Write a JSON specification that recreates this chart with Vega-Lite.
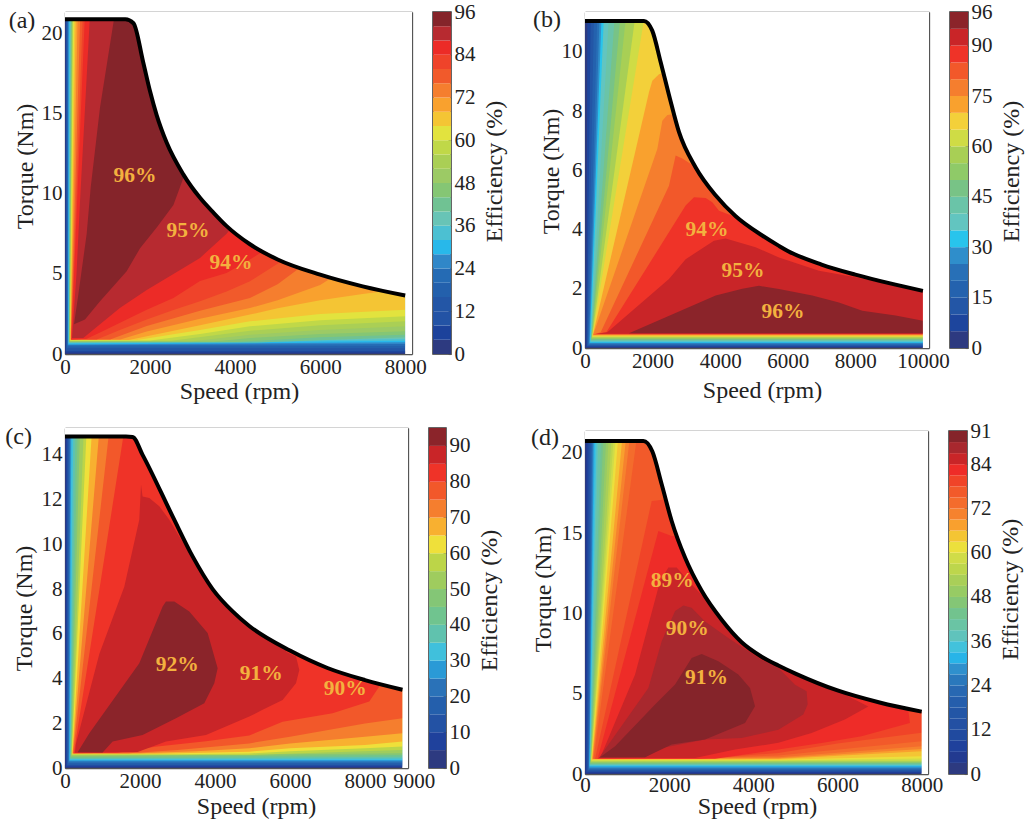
{"$schema":"https://vega.github.io/schema/vega-lite/v6.json","background":"white","padding":{"left":5,"top":0,"right":2,"bottom":2},"spacing":24,"resolve":{"scale":{"fill":"independent"}},
"config":{"view":{"stroke":null},"axis":{"grid":false,"labelFont":"Liberation Serif","titleFont":"Liberation Serif","labelFontSize":21,"titleFontSize":24,"titleFontWeight":"normal","labelColor":"#222","titleColor":"#222","domainColor":"#555","tickColor":"#555","domainWidth":1.3,"tickWidth":1.1,"tickSize":-4,"zindex":1,"labelPadding":6,"labelOverlap":false,"labelFlush":false,"titleBaseline":"middle"}},
"datasets":{
"aB":[{"l":0,"x":0,"y":0},{"l":0,"x":0,"y":21.3},{"l":0,"x":8000,"y":21.3},{"l":0,"x":8000,"y":0},
{"l":4,"x":15,"y":0.08},{"l":4,"x":20,"y":21.3},{"l":4,"x":8000,"y":21.3},{"l":4,"x":8000,"y":0.08},
{"l":8,"x":25,"y":0.17},{"l":8,"x":32,"y":21.3},{"l":8,"x":8000,"y":21.3},{"l":8,"x":8000,"y":0.17},
{"l":12,"x":35,"y":0.27},{"l":12,"x":42,"y":21.3},{"l":12,"x":8000,"y":21.3},{"l":12,"x":8000,"y":0.27},
{"l":16,"x":45,"y":0.38},{"l":16,"x":52,"y":21.3},{"l":16,"x":8000,"y":21.3},{"l":16,"x":8000,"y":0.38},
{"l":20,"x":55,"y":0.47},{"l":20,"x":62,"y":21.3},{"l":20,"x":8000,"y":21.3},{"l":20,"x":8000,"y":0.5},
{"l":24,"x":65,"y":0.55},{"l":24,"x":75,"y":21.3},{"l":24,"x":8000,"y":21.3},{"l":24,"x":8000,"y":0.62},
{"l":28,"x":75,"y":0.6},{"l":28,"x":90,"y":21.3},{"l":28,"x":8000,"y":21.3},{"l":28,"x":8000,"y":0.73},
{"l":32,"x":82,"y":0.65},{"l":32,"x":105,"y":21.3},{"l":32,"x":8000,"y":21.3},{"l":32,"x":8000,"y":0.83},
{"l":36,"x":90,"y":0.68},{"l":36,"x":120,"y":21.3},{"l":36,"x":8000,"y":21.3},{"l":36,"x":8000,"y":0.93},
{"l":40,"x":95,"y":0.72},{"l":40,"x":135,"y":21.3},{"l":40,"x":8000,"y":21.3},{"l":40,"x":8000,"y":1.05},{"l":40,"x":4500,"y":0.72},
{"l":44,"x":100,"y":0.75},{"l":44,"x":150,"y":21.3},{"l":44,"x":8000,"y":21.3},{"l":44,"x":8000,"y":1.2},{"l":44,"x":6000,"y":1.05},{"l":44,"x":4000,"y":0.75},
{"l":48,"x":105,"y":0.78},{"l":48,"x":165,"y":21.3},{"l":48,"x":8000,"y":21.3},{"l":48,"x":8000,"y":1.42},{"l":48,"x":6000,"y":1.25},{"l":48,"x":4350,"y":1.0},{"l":48,"x":3500,"y":0.78},
{"l":52,"x":110,"y":0.8},{"l":52,"x":175,"y":21.3},{"l":52,"x":8000,"y":21.3},{"l":52,"x":8000,"y":1.73},{"l":52,"x":6000,"y":1.5},{"l":52,"x":4350,"y":1.2},{"l":52,"x":3000,"y":0.8},
{"l":56,"x":115,"y":0.82},{"l":56,"x":185,"y":21.3},{"l":56,"x":8000,"y":21.3},{"l":56,"x":8000,"y":2.04},{"l":56,"x":6000,"y":1.8},{"l":56,"x":4350,"y":1.45},{"l":56,"x":2500,"y":0.82},
{"l":60,"x":120,"y":0.85},{"l":60,"x":195,"y":21.3},{"l":60,"x":8000,"y":21.3},{"l":60,"x":8000,"y":2.35},{"l":60,"x":6000,"y":2.1},{"l":60,"x":4350,"y":1.73},{"l":60,"x":3175,"y":1.25},{"l":60,"x":2000,"y":0.85},
{"l":64,"x":125,"y":0.87},{"l":64,"x":220,"y":21.3},{"l":64,"x":8000,"y":21.3},{"l":64,"x":8000,"y":2.77},{"l":64,"x":6000,"y":2.5},{"l":64,"x":4350,"y":2.04},{"l":64,"x":3175,"y":1.5},{"l":64,"x":1700,"y":0.87},
{"l":68,"x":130,"y":0.88},{"l":68,"x":255,"y":21.3},{"l":68,"x":8000,"y":21.3},{"l":68,"x":7500,"y":3.92},{"l":68,"x":7000,"y":3.75},{"l":68,"x":6000,"y":3.35},{"l":68,"x":5000,"y":2.85},{"l":68,"x":4350,"y":2.46},{"l":68,"x":3175,"y":1.8},{"l":68,"x":1500,"y":0.88},
{"l":72,"x":135,"y":0.9},{"l":72,"x":300,"y":21.3},{"l":72,"x":8000,"y":21.3},{"l":72,"x":6260,"y":4.75},{"l":72,"x":6000,"y":4.3},{"l":72,"x":5000,"y":3.35},{"l":72,"x":4350,"y":2.87},{"l":72,"x":3175,"y":2.2},{"l":72,"x":1922,"y":1.4},{"l":72,"x":1300,"y":0.9},
{"l":76,"x":140,"y":0.9},{"l":76,"x":360,"y":21.3},{"l":76,"x":8000,"y":21.3},{"l":76,"x":5530,"y":5.4},{"l":76,"x":5000,"y":4.35},{"l":76,"x":4350,"y":3.5},{"l":76,"x":3175,"y":2.7},{"l":76,"x":1922,"y":1.75},{"l":76,"x":1060,"y":0.9},
{"l":80,"x":145,"y":0.9},{"l":80,"x":420,"y":21.3},{"l":80,"x":8000,"y":21.3},{"l":80,"x":5100,"y":5.8},{"l":80,"x":4350,"y":4.54},{"l":80,"x":3800,"y":3.9},{"l":80,"x":3175,"y":3.3},{"l":80,"x":2550,"y":2.75},{"l":80,"x":1922,"y":2.15},{"l":80,"x":1290,"y":1.5},{"l":80,"x":745,"y":0.9},
{"l":84,"x":150,"y":0.9},{"l":84,"x":470,"y":21.3},{"l":84,"x":8000,"y":21.3},{"l":84,"x":4706,"y":6.5},{"l":84,"x":4350,"y":5.9},{"l":84,"x":3800,"y":5.06},{"l":84,"x":3175,"y":4.55},{"l":84,"x":2550,"y":3.5},{"l":84,"x":1922,"y":2.77},{"l":84,"x":824,"y":1.35},{"l":84,"x":510,"y":0.95},
{"l":88,"x":165,"y":1},{"l":88,"x":270,"y":5},{"l":88,"x":353,"y":9.5},{"l":88,"x":590,"y":21.3},{"l":88,"x":8000,"y":21.3},{"l":88,"x":3800,"y":7.5},{"l":88,"x":3175,"y":6},{"l":88,"x":2550,"y":5},{"l":88,"x":1922,"y":4},{"l":88,"x":1290,"y":2.87},{"l":88,"x":824,"y":1.85},{"l":88,"x":430,"y":1},
{"l":92,"x":212,"y":1.85},{"l":92,"x":313,"y":3.7},{"l":92,"x":510,"y":7.5},{"l":92,"x":604,"y":10.4},{"l":92,"x":824,"y":15.4},{"l":92,"x":1176,"y":21.3},{"l":92,"x":8000,"y":21.3},{"l":92,"x":2785,"y":11},{"l":92,"x":2550,"y":9.3},{"l":92,"x":2157,"y":7.9},{"l":92,"x":1765,"y":6.6},{"l":92,"x":1450,"y":5.17},{"l":92,"x":824,"y":3.3},{"l":92,"x":470,"y":2.15}],
"aM":[{"x":0,"y":20.9,"e":1},{"x":1420,"y":20.9,"e":1},{"x":1610,"y":20.65,"e":1},{"x":1840,"y":18.2,"e":1},{"x":2000,"y":16.4,"e":1},{"x":2157,"y":14.9,"e":1},{"x":2390,"y":13.2,"e":1},{"x":2785,"y":11.2,"e":1},{"x":3175,"y":9.75,"e":1},{"x":3500,"y":8.8,"e":1},{"x":3795,"y":8,"e":1},{"x":4350,"y":6.85,"e":1},{"x":5000,"y":5.9,"e":1},{"x":6000,"y":4.95,"e":1},{"x":7000,"y":4.22,"e":1},{"x":8000,"y":3.65,"e":1},{"x":8000,"y":0,"e":0},{"x":8160,"y":0,"e":0},{"x":8160,"y":21.35,"e":0},{"x":0,"y":21.35,"e":0}],
"aT":[{"x":-1012,"y":20.8,"t":"(a)","k":0},{"x":1647,"y":11.1,"t":"96%","k":1},{"x":2894,"y":7.67,"t":"95%","k":1},{"x":3906,"y":5.67,"t":"94%","k":1}],
"aC":[{"l":0,"h":4},{"l":4,"h":8},{"l":8,"h":12},{"l":12,"h":16},{"l":16,"h":20},{"l":20,"h":24},{"l":24,"h":28},{"l":28,"h":32},{"l":32,"h":36},{"l":36,"h":40},{"l":40,"h":44},{"l":44,"h":48},{"l":48,"h":52},{"l":52,"h":56},{"l":56,"h":60},{"l":60,"h":64},{"l":64,"h":68},{"l":68,"h":72},{"l":72,"h":76},{"l":76,"h":80},{"l":80,"h":84},{"l":84,"h":88},{"l":88,"h":92},{"l":92,"h":96}],
"bB":[{"l":0,"x":0,"y":0},{"l":0,"x":0,"y":11.3},{"l":0,"x":10000,"y":11.3},{"l":0,"x":10000,"y":0},
{"l":5,"x":40,"y":0.03},{"l":5,"x":70,"y":11.3},{"l":5,"x":10000,"y":11.3},{"l":5,"x":10000,"y":0.03},
{"l":10,"x":60,"y":0.06},{"l":10,"x":168,"y":11.3},{"l":10,"x":10000,"y":11.3},{"l":10,"x":10000,"y":0.06},
{"l":15,"x":80,"y":0.09},{"l":15,"x":266,"y":11.3},{"l":15,"x":10000,"y":11.3},{"l":15,"x":10000,"y":0.09},
{"l":20,"x":100,"y":0.12},{"l":20,"x":365,"y":11.3},{"l":20,"x":10000,"y":11.3},{"l":20,"x":10000,"y":0.12},
{"l":25,"x":120,"y":0.15},{"l":25,"x":434,"y":11.3},{"l":25,"x":10000,"y":11.3},{"l":25,"x":10000,"y":0.15},
{"l":30,"x":140,"y":0.18},{"l":30,"x":493,"y":11.3},{"l":30,"x":10000,"y":11.3},{"l":30,"x":10000,"y":0.18},
{"l":35,"x":160,"y":0.21},{"l":35,"x":562,"y":11.3},{"l":35,"x":10000,"y":11.3},{"l":35,"x":10000,"y":0.21},
{"l":40,"x":170,"y":0.24},{"l":40,"x":710,"y":11.3},{"l":40,"x":10000,"y":11.3},{"l":40,"x":10000,"y":0.24},
{"l":45,"x":180,"y":0.27},{"l":45,"x":887,"y":11.3},{"l":45,"x":10000,"y":11.3},{"l":45,"x":10000,"y":0.27},
{"l":50,"x":190,"y":0.3},{"l":50,"x":1055,"y":11.3},{"l":50,"x":10000,"y":11.3},{"l":50,"x":10000,"y":0.3},
{"l":55,"x":200,"y":0.33},{"l":55,"x":1223,"y":11.3},{"l":55,"x":10000,"y":11.3},{"l":55,"x":10000,"y":0.33},
{"l":60,"x":210,"y":0.36},{"l":60,"x":1500,"y":11.3},{"l":60,"x":10000,"y":11.3},{"l":60,"x":10000,"y":0.36},
{"l":65,"x":220,"y":0.39},{"l":65,"x":1775,"y":11.3},{"l":65,"x":10000,"y":11.3},{"l":65,"x":10000,"y":0.39},
{"l":70,"x":230,"y":0.42},{"l":70,"x":1893,"y":8.64},{"l":70,"x":1992,"y":9.03},{"l":70,"x":2189,"y":9.25},{"l":70,"x":2337,"y":9.3},{"l":70,"x":10000,"y":11.3},{"l":70,"x":10000,"y":0.42},
{"l":75,"x":240,"y":0.44},{"l":75,"x":2140,"y":6.72},{"l":75,"x":2288,"y":7.68},{"l":75,"x":2436,"y":7.87},{"l":75,"x":2604,"y":7.9},{"l":75,"x":10000,"y":11.3},{"l":75,"x":10000,"y":0.44},
{"l":80,"x":250,"y":0.46},{"l":80,"x":464,"y":0.53},{"l":80,"x":2485,"y":5.48},{"l":80,"x":2682,"y":6.5},{"l":80,"x":2880,"y":6.4},{"l":80,"x":3225,"y":6.15},{"l":80,"x":10000,"y":11.3},{"l":80,"x":10000,"y":0.46},
{"l":85,"x":300,"y":0.47},{"l":85,"x":631,"y":0.53},{"l":85,"x":2978,"y":4.81},{"l":85,"x":3225,"y":5.09},{"l":85,"x":3570,"y":5.07},{"l":85,"x":3767,"y":4.92},{"l":85,"x":3965,"y":4.64},{"l":85,"x":4359,"y":4.47},{"l":85,"x":10000,"y":11.3},{"l":85,"x":10000,"y":0.47},
{"l":90,"x":350,"y":0.48},{"l":90,"x":661,"y":0.53},{"l":90,"x":2485,"y":2.33},{"l":90,"x":2978,"y":3},{"l":90,"x":3816,"y":3.62},{"l":90,"x":4162,"y":3.7},{"l":90,"x":5048,"y":3.4},{"l":90,"x":5740,"y":3.06},{"l":90,"x":6923,"y":2.61},{"l":90,"x":8008,"y":2.39},{"l":90,"x":9192,"y":2.1},{"l":90,"x":10000,"y":1.93},{"l":90,"x":10000,"y":0.48},
{"l":95,"x":1302,"y":0.5},{"l":95,"x":3867,"y":1.77},{"l":95,"x":4655,"y":2},{"l":95,"x":5148,"y":2.1},{"l":95,"x":5740,"y":1.99},{"l":95,"x":6725,"y":1.77},{"l":95,"x":7514,"y":1.54},{"l":95,"x":8205,"y":1.26},{"l":95,"x":9192,"y":1.1},{"l":95,"x":10000,"y":0.92},{"l":95,"x":10000,"y":0.5}],
"bM":[{"x":0,"y":11.05,"e":1},{"x":1745,"y":11.05,"e":1},{"x":1990,"y":10.72,"e":1},{"x":2240,"y":9.65,"e":1},{"x":2485,"y":8.55,"e":1},{"x":2780,"y":7.3,"e":1},{"x":3275,"y":6.1,"e":1},{"x":3870,"y":5.15,"e":1},{"x":4460,"y":4.45,"e":1},{"x":5245,"y":3.8,"e":1},{"x":5740,"y":3.45,"e":1},{"x":6000,"y":3.28,"e":1},{"x":7000,"y":2.82,"e":1},{"x":8000,"y":2.48,"e":1},{"x":9000,"y":2.19,"e":1},{"x":10000,"y":1.93,"e":1},{"x":10000,"y":0,"e":0},{"x":10180,"y":0,"e":0},{"x":10180,"y":11.35,"e":0},{"x":0,"y":11.35,"e":0}],
"bT":[{"x":-1124,"y":11.08,"t":"(b)","k":0},{"x":3609,"y":3.99,"t":"94%","k":1},{"x":4675,"y":2.6,"t":"95%","k":1},{"x":5858,"y":1.22,"t":"96%","k":1}],
"bC":[{"l":0,"h":5},{"l":5,"h":10},{"l":10,"h":15},{"l":15,"h":20},{"l":20,"h":25},{"l":25,"h":30},{"l":30,"h":35},{"l":35,"h":40},{"l":40,"h":45},{"l":45,"h":50},{"l":50,"h":55},{"l":55,"h":60},{"l":60,"h":65},{"l":65,"h":70},{"l":70,"h":75},{"l":75,"h":80},{"l":80,"h":85},{"l":85,"h":90},{"l":90,"h":95},{"l":95,"h":100}],
"cB":[{"l":0,"x":0,"y":0},{"l":0,"x":0,"y":15.1},{"l":0,"x":9000,"y":15.1},{"l":0,"x":9000,"y":0},
{"l":5,"x":25,"y":0.05},{"l":5,"x":30,"y":15.1},{"l":5,"x":9000,"y":15.1},{"l":5,"x":9000,"y":0.05},
{"l":10,"x":45,"y":0.1},{"l":10,"x":60,"y":15.1},{"l":10,"x":9000,"y":15.1},{"l":10,"x":9000,"y":0.1},
{"l":15,"x":65,"y":0.15},{"l":15,"x":90,"y":15.1},{"l":15,"x":9000,"y":15.1},{"l":15,"x":9000,"y":0.15},
{"l":20,"x":85,"y":0.23},{"l":20,"x":120,"y":15.1},{"l":20,"x":9000,"y":15.1},{"l":20,"x":9000,"y":0.23},
{"l":25,"x":105,"y":0.3},{"l":25,"x":145,"y":15.1},{"l":25,"x":9000,"y":15.1},{"l":25,"x":9000,"y":0.3},
{"l":30,"x":120,"y":0.35},{"l":30,"x":170,"y":15.1},{"l":30,"x":9000,"y":15.1},{"l":30,"x":9000,"y":0.36},
{"l":35,"x":135,"y":0.4},{"l":35,"x":221,"y":15.1},{"l":35,"x":9000,"y":15.1},{"l":35,"x":9000,"y":0.43},
{"l":40,"x":145,"y":0.44},{"l":40,"x":280,"y":15.1},{"l":40,"x":9000,"y":15.1},{"l":40,"x":9000,"y":0.5},
{"l":45,"x":155,"y":0.48},{"l":45,"x":337,"y":15.1},{"l":45,"x":9000,"y":15.1},{"l":45,"x":9000,"y":0.58},
{"l":50,"x":165,"y":0.53},{"l":50,"x":400,"y":15.1},{"l":50,"x":9000,"y":15.1},{"l":50,"x":9000,"y":0.66},
{"l":55,"x":175,"y":0.58},{"l":55,"x":500,"y":15.1},{"l":55,"x":9000,"y":15.1},{"l":55,"x":9000,"y":0.8},{"l":55,"x":4914,"y":0.58},
{"l":60,"x":185,"y":0.62},{"l":60,"x":577,"y":15.1},{"l":60,"x":9000,"y":15.1},{"l":60,"x":9000,"y":0.96},{"l":60,"x":8000,"y":0.88},{"l":60,"x":6000,"y":0.75},{"l":60,"x":4914,"y":0.65},{"l":60,"x":3000,"y":0.62},
{"l":65,"x":195,"y":0.64},{"l":65,"x":719,"y":15.1},{"l":65,"x":9000,"y":15.1},{"l":65,"x":9000,"y":1.18},{"l":65,"x":8000,"y":1.03},{"l":65,"x":6000,"y":0.88},{"l":65,"x":4914,"y":0.73},{"l":65,"x":2400,"y":0.64},
{"l":70,"x":205,"y":0.66},{"l":70,"x":915,"y":15.1},{"l":70,"x":9000,"y":15.1},{"l":70,"x":9000,"y":1.55},{"l":70,"x":8000,"y":1.4},{"l":70,"x":6000,"y":1.1},{"l":70,"x":4914,"y":0.88},{"l":70,"x":3500,"y":0.75},{"l":70,"x":2000,"y":0.66},
{"l":75,"x":215,"y":0.66},{"l":75,"x":1181,"y":15.1},{"l":75,"x":9000,"y":15.1},{"l":75,"x":9000,"y":2.22},{"l":75,"x":8000,"y":1.99},{"l":75,"x":6000,"y":1.4},{"l":75,"x":4914,"y":1.1},{"l":75,"x":3000,"y":0.8},{"l":75,"x":1700,"y":0.66},
{"l":80,"x":235,"y":0.66},{"l":80,"x":1581,"y":15.1},{"l":80,"x":9000,"y":15.1},{"l":80,"x":8381,"y":3.64},{"l":80,"x":8115,"y":2.97},{"l":80,"x":7136,"y":2.45},{"l":80,"x":5803,"y":2.07},{"l":80,"x":4914,"y":1.45},{"l":80,"x":3760,"y":1.2},{"l":80,"x":2400,"y":0.95},{"l":80,"x":1400,"y":0.68},
{"l":85,"x":265,"y":0.68},{"l":85,"x":293,"y":1.1},{"l":85,"x":915,"y":5.1},{"l":85,"x":1581,"y":8.1},{"l":85,"x":1981,"y":11.1},{"l":85,"x":2027,"y":12.66},{"l":85,"x":2069,"y":12.14},{"l":85,"x":2248,"y":12.07},{"l":85,"x":2515,"y":11.7},{"l":85,"x":2781,"y":11.1},{"l":85,"x":3048,"y":10.35},{"l":85,"x":3403,"y":9.4},{"l":85,"x":6000,"y":9},{"l":85,"x":5893,"y":5.2},{"l":85,"x":6160,"y":4.98},{"l":85,"x":6248,"y":4.38},{"l":85,"x":6160,"y":3.79},{"l":85,"x":5803,"y":3.04},{"l":85,"x":5270,"y":2.6},{"l":85,"x":4914,"y":2.3},{"l":85,"x":3760,"y":1.48},{"l":85,"x":2693,"y":1.18},{"l":85,"x":1936,"y":0.72},
{"l":90,"x":337,"y":0.7},{"l":90,"x":648,"y":1.55},{"l":90,"x":1981,"y":4.68},{"l":90,"x":2604,"y":7.22},{"l":90,"x":2693,"y":7.44},{"l":90,"x":2915,"y":7.44},{"l":90,"x":3315,"y":7},{"l":90,"x":3804,"y":6.03},{"l":90,"x":4071,"y":4.46},{"l":90,"x":3981,"y":3.79},{"l":90,"x":3715,"y":2.9},{"l":90,"x":2960,"y":2.22},{"l":90,"x":2069,"y":1.48},{"l":90,"x":1270,"y":1.18},{"l":90,"x":1003,"y":0.69}],
"cM":[{"x":0,"y":14.82,"e":1},{"x":1626,"y":14.82,"e":1},{"x":1803,"y":14.8,"e":1},{"x":2069,"y":14,"e":1},{"x":2870,"y":11.25,"e":1},{"x":3403,"y":9.46,"e":1},{"x":3936,"y":8,"e":1},{"x":4470,"y":7,"e":1},{"x":4914,"y":6.35,"e":1},{"x":6000,"y":5.25,"e":1},{"x":7000,"y":4.47,"e":1},{"x":8000,"y":3.93,"e":1},{"x":9000,"y":3.5,"e":1},{"x":9000,"y":0,"e":0},{"x":9147,"y":0,"e":0},{"x":9147,"y":15.2,"e":0},{"x":0,"y":15.2,"e":0}],
"cT":[{"x":-1237,"y":14.82,"t":"(c)","k":0},{"x":2995,"y":4.6,"t":"92%","k":1},{"x":5235,"y":4.2,"t":"91%","k":1},{"x":7475,"y":3.53,"t":"90%","k":1},{"x":9315,"y":-0.61,"t":"9000","k":2}],
"cC":[{"l":0,"h":5},{"l":5,"h":10},{"l":10,"h":15},{"l":15,"h":20},{"l":20,"h":25},{"l":25,"h":30},{"l":30,"h":35},{"l":35,"h":40},{"l":40,"h":45},{"l":45,"h":50},{"l":50,"h":55},{"l":55,"h":60},{"l":60,"h":65},{"l":65,"h":70},{"l":70,"h":75},{"l":75,"h":80},{"l":80,"h":85},{"l":85,"h":90},{"l":90,"h":95}],
"dB":[{"l":0,"x":0,"y":0},{"l":0,"x":0,"y":21.3},{"l":0,"x":8000,"y":21.3},{"l":0,"x":8000,"y":0},
{"l":3,"x":12,"y":0.04},{"l":3,"x":25,"y":21.3},{"l":3,"x":8000,"y":21.3},{"l":3,"x":8000,"y":0.04},
{"l":6,"x":25,"y":0.08},{"l":6,"x":50,"y":21.3},{"l":6,"x":8000,"y":21.3},{"l":6,"x":8000,"y":0.08},
{"l":9,"x":37,"y":0.12},{"l":9,"x":75,"y":21.3},{"l":9,"x":8000,"y":21.3},{"l":9,"x":8000,"y":0.12},
{"l":12,"x":50,"y":0.16},{"l":12,"x":100,"y":21.3},{"l":12,"x":8000,"y":21.3},{"l":12,"x":8000,"y":0.16},
{"l":15,"x":60,"y":0.2},{"l":15,"x":120,"y":21.3},{"l":15,"x":8000,"y":21.3},{"l":15,"x":8000,"y":0.2},
{"l":18,"x":70,"y":0.24},{"l":18,"x":140,"y":21.3},{"l":18,"x":8000,"y":21.3},{"l":18,"x":8000,"y":0.24},
{"l":21,"x":80,"y":0.28},{"l":21,"x":160,"y":21.3},{"l":21,"x":8000,"y":21.3},{"l":21,"x":8000,"y":0.28},
{"l":24,"x":90,"y":0.33},{"l":24,"x":175,"y":21.3},{"l":24,"x":8000,"y":21.3},{"l":24,"x":8000,"y":0.33},
{"l":27,"x":100,"y":0.38},{"l":27,"x":195,"y":21.3},{"l":27,"x":8000,"y":21.3},{"l":27,"x":8000,"y":0.38},
{"l":30,"x":105,"y":0.45},{"l":30,"x":215,"y":21.3},{"l":30,"x":8000,"y":21.3},{"l":30,"x":8000,"y":0.45},
{"l":33,"x":110,"y":0.5},{"l":33,"x":240,"y":21.3},{"l":33,"x":8000,"y":21.3},{"l":33,"x":8000,"y":0.5},
{"l":36,"x":115,"y":0.55},{"l":36,"x":280,"y":21.3},{"l":36,"x":8000,"y":21.3},{"l":36,"x":8000,"y":0.55},
{"l":39,"x":120,"y":0.58},{"l":39,"x":320,"y":21.3},{"l":39,"x":8000,"y":21.3},{"l":39,"x":8000,"y":0.58},
{"l":42,"x":125,"y":0.62},{"l":42,"x":390,"y":21.3},{"l":42,"x":8000,"y":21.3},{"l":42,"x":8000,"y":0.62},
{"l":45,"x":130,"y":0.66},{"l":45,"x":440,"y":21.3},{"l":45,"x":8000,"y":21.3},{"l":45,"x":8000,"y":0.68},
{"l":48,"x":135,"y":0.7},{"l":48,"x":510,"y":21.3},{"l":48,"x":8000,"y":21.3},{"l":48,"x":8000,"y":0.72},
{"l":51,"x":140,"y":0.74},{"l":51,"x":570,"y":21.3},{"l":51,"x":8000,"y":21.3},{"l":51,"x":8000,"y":0.77},
{"l":54,"x":145,"y":0.78},{"l":54,"x":640,"y":21.3},{"l":54,"x":8000,"y":21.3},{"l":54,"x":8000,"y":0.8},
{"l":57,"x":150,"y":0.82},{"l":57,"x":690,"y":21.3},{"l":57,"x":8000,"y":21.3},{"l":57,"x":8000,"y":0.84},
{"l":60,"x":155,"y":0.85},{"l":60,"x":740,"y":21.3},{"l":60,"x":8000,"y":21.3},{"l":60,"x":8000,"y":0.96},{"l":60,"x":4594,"y":0.85},
{"l":63,"x":160,"y":0.88},{"l":63,"x":800,"y":21.3},{"l":63,"x":8000,"y":21.3},{"l":63,"x":8000,"y":1.1},{"l":63,"x":4594,"y":0.88},
{"l":66,"x":170,"y":0.92},{"l":66,"x":900,"y":21.3},{"l":66,"x":8000,"y":21.3},{"l":66,"x":8000,"y":1.42},{"l":66,"x":4594,"y":0.93},
{"l":69,"x":180,"y":0.95},{"l":69,"x":990,"y":21.3},{"l":69,"x":8000,"y":21.3},{"l":69,"x":8000,"y":1.55},{"l":69,"x":4594,"y":0.98},{"l":69,"x":1500,"y":0.95},
{"l":72,"x":190,"y":0.95},{"l":72,"x":1080,"y":21.3},{"l":72,"x":8000,"y":21.3},{"l":72,"x":8000,"y":1.73},{"l":72,"x":4594,"y":1.05},{"l":72,"x":1800,"y":0.95},
{"l":75,"x":205,"y":0.95},{"l":75,"x":1250,"y":21.3},{"l":75,"x":8000,"y":21.3},{"l":75,"x":8000,"y":2.04},{"l":75,"x":4594,"y":1.15},{"l":75,"x":2200,"y":0.95},
{"l":78,"x":240,"y":0.95},{"l":78,"x":1585,"y":17},{"l":78,"x":1950,"y":17.1},{"l":78,"x":8000,"y":21.3},{"l":78,"x":8000,"y":2.56},{"l":78,"x":6000,"y":1.9},{"l":78,"x":4594,"y":1.31},{"l":78,"x":2700,"y":0.95},
{"l":81,"x":300,"y":0.95},{"l":81,"x":1743,"y":15.12},{"l":81,"x":2059,"y":14.81},{"l":81,"x":2200,"y":14.8},{"l":81,"x":8000,"y":21.3},{"l":81,"x":7681,"y":3.99},{"l":81,"x":7720,"y":3.18},{"l":81,"x":6572,"y":2.35},{"l":81,"x":5622,"y":1.93},{"l":81,"x":4594,"y":1.52},{"l":81,"x":3090,"y":0.95},
{"l":84,"x":358,"y":1},{"l":84,"x":1190,"y":6.2},{"l":84,"x":1783,"y":12},{"l":84,"x":1981,"y":12.85},{"l":84,"x":2178,"y":12.85},{"l":84,"x":2534,"y":11.8},{"l":84,"x":2930,"y":10.7},{"l":84,"x":3400,"y":11},{"l":84,"x":6138,"y":7},{"l":84,"x":6138,"y":5},{"l":84,"x":6732,"y":4.2},{"l":84,"x":6174,"y":3.39},{"l":84,"x":5385,"y":2.55},{"l":84,"x":4594,"y":1.94},{"l":84,"x":3565,"y":1.52},{"l":84,"x":2615,"y":1},
{"l":87,"x":330,"y":1},{"l":87,"x":1506,"y":5.36},{"l":87,"x":1822,"y":8.27},{"l":87,"x":2140,"y":10.14},{"l":87,"x":2337,"y":10.49},{"l":87,"x":2534,"y":10.35},{"l":87,"x":2853,"y":9.5},{"l":87,"x":3406,"y":8.47},{"l":87,"x":4197,"y":7.1},{"l":87,"x":4594,"y":6.6},{"l":87,"x":4990,"y":5.56},{"l":87,"x":5266,"y":5.15},{"l":87,"x":5290,"y":4.32},{"l":87,"x":5188,"y":3.7},{"l":87,"x":4594,"y":2.76},{"l":87,"x":3722,"y":2.24},{"l":87,"x":2853,"y":2.14},{"l":87,"x":1822,"y":1.62},{"l":87,"x":1427,"y":1.05},
{"l":90,"x":358,"y":1.05},{"l":90,"x":715,"y":1.73},{"l":90,"x":1665,"y":4.32},{"l":90,"x":2140,"y":5.57},{"l":90,"x":2534,"y":7.22},{"l":90,"x":2772,"y":7.47},{"l":90,"x":3169,"y":7.02},{"l":90,"x":3644,"y":6.2},{"l":90,"x":3921,"y":5.36},{"l":90,"x":4040,"y":4.22},{"l":90,"x":3802,"y":3.18},{"l":90,"x":2853,"y":2.14},{"l":90,"x":2059,"y":1.83},{"l":90,"x":1427,"y":1.05}],
"dM":[{"x":0,"y":20.73,"e":1},{"x":1387,"y":20.73,"e":1},{"x":1601,"y":20.07,"e":1},{"x":1822,"y":18.03,"e":1},{"x":2059,"y":15.75,"e":1},{"x":2377,"y":13.47,"e":1},{"x":2772,"y":11.4,"e":1},{"x":3247,"y":9.6,"e":1},{"x":3722,"y":8.2,"e":1},{"x":4197,"y":7.3,"e":1},{"x":4594,"y":6.75,"e":1},{"x":5000,"y":6.25,"e":1},{"x":6000,"y":5.2,"e":1},{"x":7000,"y":4.45,"e":1},{"x":8000,"y":3.88,"e":1},{"x":8000,"y":0,"e":0},{"x":8150,"y":0,"e":0},{"x":8150,"y":21.35,"e":0},{"x":0,"y":21.35,"e":0}],
"dT":[{"x":-948,"y":20.9,"t":"(d)","k":0},{"x":2076,"y":12,"t":"89%","k":1},{"x":2432,"y":9,"t":"90%","k":1},{"x":2884,"y":5.96,"t":"91%","k":1}],
"dC":[{"l":0,"h":3},{"l":3,"h":6},{"l":6,"h":9},{"l":9,"h":12},{"l":12,"h":15},{"l":15,"h":18},{"l":18,"h":21},{"l":21,"h":24},{"l":24,"h":27},{"l":27,"h":30},{"l":30,"h":33},{"l":33,"h":36},{"l":36,"h":39},{"l":39,"h":42},{"l":42,"h":45},{"l":45,"h":48},{"l":48,"h":51},{"l":51,"h":54},{"l":54,"h":57},{"l":57,"h":60},{"l":60,"h":63},{"l":63,"h":66},{"l":66,"h":69},{"l":69,"h":72},{"l":72,"h":75},{"l":75,"h":78},{"l":78,"h":81},{"l":81,"h":84},{"l":84,"h":87},{"l":87,"h":90},{"l":90,"h":93}]
},
"hconcat":[
{"spacing":21,"resolve":{"scale":{"fill":"independent"}},"vconcat":[
{"bounds":"flush","spacing":21,"resolve":{"scale":{"fill":"independent"}},"hconcat":[
{"width":347,"height":342,"encoding":{"x":{"field":"x","type":"quantitative","scale":{"domain":[0,8160]},"axis":null},"y":{"field":"y","type":"quantitative","scale":{"domain":[0,21.35]},"axis":null}},"resolve":{"axis":{"x":"independent","y":"independent"}},"layer":[
{"data":{"name":"aB"},"mark":{"type":"line","stroke":null},"encoding":{"order":{"value":null},"fill":{"field":"l","type":"ordinal","legend":null,"scale":{"domain":[0,4,8,12,16,20,24,28,32,36,40,44,48,52,56,60,64,68,72,76,80,84,88,92],"range":["#2d3a80","#1c429b","#2353a5","#2356a6","#2360ac","#256bb4","#3087c8","#28b8ea","#4cc0d2","#68c4b6","#70c293","#85c674","#9cca65","#aacf55","#c0d848","#e2e33e","#f4c534","#f9a12e","#f57e2e","#f15a2b","#ef432a","#ec2b27","#b72a30","#85242a"]}},
"x":{"field":"x","type":"quantitative","scale":{"domain":[0,8160]},"axis":{"title":"Speed (rpm)","titleX":174,"titleY":37,"values":[0,1000,2000,3000,4000,5000,6000,7000,8000],"format":"d","labelExpr":"datum.value%2000==0?datum.label:''"}},
"y":{"field":"y","type":"quantitative","scale":{"domain":[0,21.35]},"axis":{"title":"Torque (Nm)","titleX":-40,"titleY":154,"values":[0,5,10,15,20],"labelPadding":7}}}},
{"data":{"name":"aM"},"mark":{"type":"line","fill":"white","stroke":null},"encoding":{"order":{"value":null},
"x":{"field":"x","type":"quantitative","scale":{"domain":[0,8160]},"axis":{"orient":"top","title":null,"labels":false,"values":[0,1000,2000,3000,4000,5000,6000,7000,8000]}},
"y":{"field":"y","type":"quantitative","scale":{"domain":[0,21.35]},"axis":{"orient":"right","title":null,"labels":false,"values":[0,5,10,15,20]}}}},
{"data":{"name":"aM"},"transform":[{"filter":"datum.e==1"}],"mark":{"type":"line","color":"black","strokeWidth":4,"strokeJoin":"round","interpolate":"monotone"},"encoding":{"order":{"value":null}}},
{"data":{"name":"aT"},"transform":[{"filter":"datum.k==0"}],"mark":{"type":"text","font":"Liberation Serif","fontSize":24,"color":"#222"},"encoding":{"text":{"field":"t"}}},
{"data":{"name":"aT"},"transform":[{"filter":"datum.k==1"}],"mark":{"type":"text","font":"Liberation Serif","fontSize":21.5,"fontWeight":"bold","color":"#f3b13f"},"encoding":{"text":{"field":"t"}}}]},
{"width":18,"height":342,"data":{"name":"aC"},"view":{"stroke":"#333","strokeWidth":1.5},"mark":{"type":"rect"},"encoding":{"y":{"field":"l","type":"quantitative","scale":{"domain":[0,96]},"axis":{"orient":"right","title":"Efficiency (%)","titleAngle":270,"titleX":43,"titleY":159,"values":[0,12,24,36,48,60,72,84,96],"domain":false,"tickSize":-3,"labelPadding":6}},"y2":{"field":"h"},"fill":{"field":"l","type":"ordinal","legend":null,"scale":{"domain":[0,4,8,12,16,20,24,28,32,36,40,44,48,52,56,60,64,68,72,76,80,84,88,92],"range":["#2d3a80","#1c429b","#2353a5","#2356a6","#2360ac","#256bb4","#3087c8","#28b8ea","#4cc0d2","#68c4b6","#70c293","#85c674","#9cca65","#aacf55","#c0d848","#e2e33e","#f4c534","#f9a12e","#f57e2e","#f15a2b","#ef432a","#ec2b27","#b72a30","#85242a"]}}}}]},
{"bounds":"flush","spacing":21,"resolve":{"scale":{"fill":"independent"}},"hconcat":[
{"width":343,"height":340,"encoding":{"x":{"field":"x","type":"quantitative","scale":{"domain":[0,9147]},"axis":null},"y":{"field":"y","type":"quantitative","scale":{"domain":[0,15.2]},"axis":null}},"resolve":{"axis":{"x":"independent","y":"independent"}},"layer":[
{"data":{"name":"cB"},"mark":{"type":"line","stroke":null},"encoding":{"order":{"value":null},"fill":{"field":"l","type":"ordinal","legend":null,"scale":{"domain":[0,5,10,15,20,25,30,35,40,45,50,55,60,65,70,75,80,85,90],"range":["#2d3a80","#1f419c","#2352a4","#245fac","#2a72b8","#2a9ad6","#40c0dc","#60c2ae","#70c48f","#84c676","#9fcc5e","#bcd548","#efe03a","#f8b030","#f57e2e","#f2582a","#ef3328","#c92528","#8b242a"]}},
"x":{"field":"x","type":"quantitative","scale":{"domain":[0,9147]},"axis":{"title":"Speed (rpm)","titleX":191,"titleY":38,"values":[0,2000,4000,6000,8000],"format":"d"}},
"y":{"field":"y","type":"quantitative","scale":{"domain":[0,15.2]},"axis":{"title":"Torque (Nm)","titleX":-41,"titleY":180,"values":[0,2,4,6,8,10,12,14],"labelPadding":7}}}},
{"data":{"name":"cM"},"mark":{"type":"line","fill":"white","stroke":null},"encoding":{"order":{"value":null},
"x":{"field":"x","type":"quantitative","scale":{"domain":[0,9147]},"axis":{"orient":"top","title":null,"labels":false,"values":[0,2000,4000,6000,8000]}},
"y":{"field":"y","type":"quantitative","scale":{"domain":[0,15.2]},"axis":{"orient":"right","title":null,"labels":false,"values":[0,2,4,6,8,10,12,14]}}}},
{"data":{"name":"cM"},"transform":[{"filter":"datum.e==1"}],"mark":{"type":"line","color":"black","strokeWidth":4,"strokeJoin":"round","interpolate":"monotone"},"encoding":{"order":{"value":null}}},
{"data":{"name":"cT"},"transform":[{"filter":"datum.k!=1"}],"mark":{"type":"text","font":"Liberation Serif","color":"#222"},"encoding":{"text":{"field":"t"},"size":{"condition":{"test":"datum.k==2","value":21},"value":24}}},
{"data":{"name":"cT"},"transform":[{"filter":"datum.k==1"}],"mark":{"type":"text","font":"Liberation Serif","fontSize":21.5,"fontWeight":"bold","color":"#f3b13f"},"encoding":{"text":{"field":"t"}}}]},
{"width":17,"height":340,"data":{"name":"cC"},"view":{"stroke":"#333","strokeWidth":1.5},"mark":{"type":"rect"},"encoding":{"y":{"field":"l","type":"quantitative","scale":{"domain":[0,95]},"axis":{"orient":"right","title":"Efficiency (%)","titleAngle":270,"titleX":43,"titleY":172,"values":[0,10,20,30,40,50,60,70,80,90],"domain":false,"tickSize":-3,"labelPadding":6}},"y2":{"field":"h"},"fill":{"field":"l","type":"ordinal","legend":null,"scale":{"domain":[0,5,10,15,20,25,30,35,40,45,50,55,60,65,70,75,80,85,90],"range":["#2d3a80","#1f419c","#2352a4","#245fac","#2a72b8","#2a9ad6","#40c0dc","#60c2ae","#70c48f","#84c676","#9fcc5e","#bcd548","#efe03a","#f8b030","#f57e2e","#f2582a","#ef3328","#c92528","#8b242a"]}}}}]}
]},
{"spacing":17,"resolve":{"scale":{"fill":"independent"}},"vconcat":[
{"bounds":"flush","spacing":21,"resolve":{"scale":{"fill":"independent"}},"hconcat":[
{"width":344,"height":336,"encoding":{"x":{"field":"x","type":"quantitative","scale":{"domain":[0,10180]},"axis":null},"y":{"field":"y","type":"quantitative","scale":{"domain":[0,11.35]},"axis":null}},"resolve":{"axis":{"x":"independent","y":"independent"}},"layer":[
{"data":{"name":"bB"},"mark":{"type":"line","stroke":null},"encoding":{"order":{"value":null},"fill":{"field":"l","type":"ordinal","legend":null,"scale":{"domain":[0,5,10,15,20,25,30,35,40,45,50,55,60,65,70,75,80,85,90,95],"range":["#2d3a80","#1d459d","#2356a6","#2462ae","#2870b7","#2f8ecb","#28c4ec","#62c5c0","#6ac4a8","#78c386","#8fca68","#a8cf55","#cfdc45","#f3d03a","#f9a12e","#f57e2e","#f2582a","#ef3328","#c92528","#8b242a"]}},
"x":{"field":"x","type":"quantitative","scale":{"domain":[0,10180]},"axis":{"title":"Speed (rpm)","titleX":177,"titleY":42,"values":[0,2000,4000,6000,8000,10000],"format":"d"}},
"y":{"field":"y","type":"quantitative","scale":{"domain":[0,11.35]},"axis":{"title":"Torque (Nm)","titleX":-34,"titleY":159,"values":[0,2,4,6,8,10],"labelPadding":7}}}},
{"data":{"name":"bM"},"mark":{"type":"line","fill":"white","stroke":null},"encoding":{"order":{"value":null},
"x":{"field":"x","type":"quantitative","scale":{"domain":[0,10180]},"axis":{"orient":"top","title":null,"labels":false,"values":[0,2000,4000,6000,8000,10000]}},
"y":{"field":"y","type":"quantitative","scale":{"domain":[0,11.35]},"axis":{"orient":"right","title":null,"labels":false,"values":[0,2,4,6,8,10]}}}},
{"data":{"name":"bM"},"transform":[{"filter":"datum.e==1"}],"mark":{"type":"line","color":"black","strokeWidth":4,"strokeJoin":"round","interpolate":"monotone"},"encoding":{"order":{"value":null}}},
{"data":{"name":"bT"},"transform":[{"filter":"datum.k==0"}],"mark":{"type":"text","font":"Liberation Serif","fontSize":24,"color":"#222"},"encoding":{"text":{"field":"t"}}},
{"data":{"name":"bT"},"transform":[{"filter":"datum.k==1"}],"mark":{"type":"text","font":"Liberation Serif","fontSize":21.5,"fontWeight":"bold","color":"#f3b13f"},"encoding":{"text":{"field":"t"}}}]},
{"width":18,"height":336,"data":{"name":"bC"},"view":{"stroke":"#333","strokeWidth":1.5},"mark":{"type":"rect"},"encoding":{"y":{"field":"l","type":"quantitative","scale":{"domain":[0,100]},"axis":{"orient":"right","title":"Efficiency (%)","titleAngle":270,"titleX":43,"titleY":159,"values":[0,15,30,45,60,75,90,100],"labelExpr":"datum.value==100?'96':datum.label","domain":false,"tickSize":-3,"labelPadding":6}},"y2":{"field":"h"},"fill":{"field":"l","type":"ordinal","legend":null,"scale":{"domain":[0,5,10,15,20,25,30,35,40,45,50,55,60,65,70,75,80,85,90,95],"range":["#2d3a80","#1d459d","#2356a6","#2462ae","#2870b7","#2f8ecb","#28c4ec","#62c5c0","#6ac4a8","#78c386","#8fca68","#a8cf55","#cfdc45","#f3d03a","#f9a12e","#f57e2e","#f2582a","#ef3328","#c92528","#8b242a"]}}}}]},
{"bounds":"flush","spacing":21,"resolve":{"scale":{"fill":"independent"}},"hconcat":[
{"width":343,"height":343,"encoding":{"x":{"field":"x","type":"quantitative","scale":{"domain":[0,8150]},"axis":null},"y":{"field":"y","type":"quantitative","scale":{"domain":[0,21.35]},"axis":null}},"resolve":{"axis":{"x":"independent","y":"independent"}},"layer":[
{"data":{"name":"dB"},"mark":{"type":"line","stroke":null},"encoding":{"order":{"value":null},"fill":{"field":"l","type":"ordinal","legend":null,"scale":{"domain":[0,3,6,9,12,15,18,21,24,27,30,33,36,39,42,45,48,51,54,57,60,63,66,69,72,75,78,81,84,87,90],"range":["#2d3a80","#223a90","#1f419c","#204a9f","#2350a3","#2356a6","#255eac","#2868b2","#2a78bc","#2f90cd","#28b4e8","#42c2dc","#60c3bc","#6ac4a4","#72c38e","#84c676","#97cb64","#a9cf58","#bdd64c","#d0dc48","#ece03c","#f4c534","#f9a02e","#f6822e","#f46c2c","#f25a2a","#f04428","#ee2c28","#c92528","#a8282e","#85242a"]}},
"x":{"field":"x","type":"quantitative","scale":{"domain":[0,8150]},"axis":{"title":"Speed (rpm)","titleX":172,"titleY":32,"values":[0,1000,2000,3000,4000,5000,6000,7000,8000],"format":"d","labelExpr":"datum.value%2000==0?datum.label:''","labelPadding":4}},
"y":{"field":"y","type":"quantitative","scale":{"domain":[0,21.35]},"axis":{"title":"Torque (Nm)","titleX":-41.6,"titleY":158,"values":[0,5,10,15,20],"labelPadding":7}}}},
{"data":{"name":"dM"},"mark":{"type":"line","fill":"white","stroke":null},"encoding":{"order":{"value":null},
"x":{"field":"x","type":"quantitative","scale":{"domain":[0,8150]},"axis":{"orient":"top","title":null,"labels":false,"values":[0,1000,2000,3000,4000,5000,6000,7000,8000]}},
"y":{"field":"y","type":"quantitative","scale":{"domain":[0,21.35]},"axis":{"orient":"right","title":null,"labels":false,"values":[0,5,10,15,20]}}}},
{"data":{"name":"dM"},"transform":[{"filter":"datum.e==1"}],"mark":{"type":"line","color":"black","strokeWidth":4,"strokeJoin":"round","interpolate":"monotone"},"encoding":{"order":{"value":null}}},
{"data":{"name":"dT"},"transform":[{"filter":"datum.k==0"}],"mark":{"type":"text","font":"Liberation Serif","fontSize":24,"color":"#222"},"encoding":{"text":{"field":"t"}}},
{"data":{"name":"dT"},"transform":[{"filter":"datum.k==1"}],"mark":{"type":"text","font":"Liberation Serif","fontSize":21.5,"fontWeight":"bold","color":"#f3b13f"},"encoding":{"text":{"field":"t"}}}]},
{"width":18,"height":343,"data":{"name":"dC"},"view":{"stroke":"#333","strokeWidth":1.5},"mark":{"type":"rect"},"encoding":{"y":{"field":"l","type":"quantitative","scale":{"domain":[0,93]},"axis":{"orient":"right","title":"Efficiency (%)","titleAngle":270,"titleX":43,"titleY":158,"values":[0,12,24,36,48,60,72,84,93],"labelExpr":"datum.value==93?'91':datum.label","domain":false,"tickSize":-3,"labelPadding":6}},"y2":{"field":"h"},"fill":{"field":"l","type":"ordinal","legend":null,"scale":{"domain":[0,3,6,9,12,15,18,21,24,27,30,33,36,39,42,45,48,51,54,57,60,63,66,69,72,75,78,81,84,87,90],"range":["#2d3a80","#223a90","#1f419c","#204a9f","#2350a3","#2356a6","#255eac","#2868b2","#2a78bc","#2f90cd","#28b4e8","#42c2dc","#60c3bc","#6ac4a4","#72c38e","#84c676","#97cb64","#a9cf58","#bdd64c","#d0dc48","#ece03c","#f4c534","#f9a02e","#f6822e","#f46c2c","#f25a2a","#f04428","#ee2c28","#c92528","#a8282e","#85242a"]}}}}]}
]}
]}
